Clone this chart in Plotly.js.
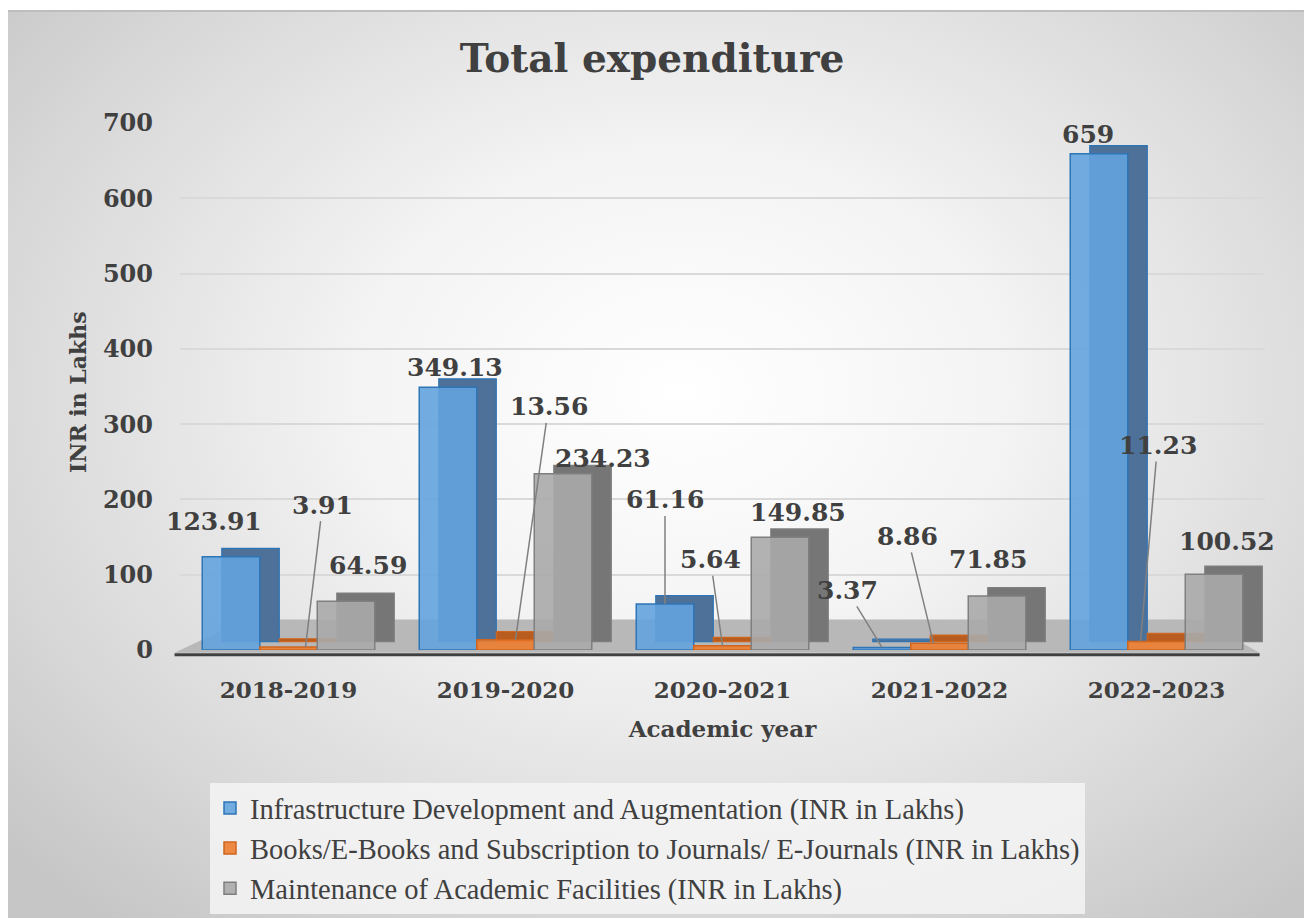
<!DOCTYPE html>
<html>
<head>
<meta charset="utf-8">
<script src="https://cdn.plot.ly/plotly-3.0.1.min.js"></script>
<style>
  html, body { margin: 0; padding: 0; background: #ffffff; }
  #wrap { position: relative; width: 1304px; height: 919px; overflow: hidden; }
  #bg { position: absolute; left: 8px; top: 10px; width: 1296px; height: 906px;
        background: radial-gradient(ellipse 70% 75% at 52% 42%, #ffffff 0%, #f4f4f4 35%, #d9d9d9 75%, #c6c6c6 100%);
        border-top: 2px solid #bdbdbd; }
  #chart { position: absolute; left: 0; top: 0; width: 1304px; height: 919px; }
</style>
</head>
<body>
<div id="wrap"><div id="bg"></div><div id="chart"></div></div>
<script>
// ---- data ----
const years = ["2018-2019", "2019-2020", "2020-2021", "2021-2022", "2022-2023"];
const seriesNames = [
  "Infrastructure Development and Augmentation (INR in Lakhs)",
  "Books/E-Books and Subscription to Journals/ E-Journals (INR in Lakhs)",
  "Maintenance of Academic Facilities (INR in Lakhs)"
];
const infrastructure = [123.91, 349.13, 61.16, 3.37, 659];
const books = [3.91, 13.56, 5.64, 8.86, 11.23];
const maintenance = [64.59, 234.23, 149.85, 71.85, 100.52];
const yTicks = [0, 100, 200, 300, 400, 500, 600, 700];
const chartTitle = "Total expenditure";
const xTitle = "Academic year";
const yTitle = "INR in Lakhs";

// ---- styles ----
const seriesValues = [infrastructure, books, maintenance];
const frontColors = ["rgba(100,163,222,0.90)", "rgba(237,125,49,0.90)", "rgba(170,170,170,0.90)"];
const sideColors = ["#4d7199", "#b85d1f", "#767676"];
const lineColors = ["#2e75b6", "#d0661e", "#7f7f7f"];
const barW = 0.265;
const offsets = [-barW, 0, barW];
const depthX = 0.09;
const depthY = 11;

const xIdx = years.map((_, i) => i);
const traces = [];
// depth (side/back) faces
seriesValues.forEach((vals, s) => {
  traces.push({
    type: "bar", x: xIdx, y: vals, base: depthY,
    offset: offsets[s] - barW / 2 + depthX, width: barW,
    marker: { color: sideColors[s], line: { color: lineColors[s], width: 1.2 } },
    showlegend: false, hoverinfo: "skip"
  });
});
// front faces
seriesValues.forEach((vals, s) => {
  traces.push({
    type: "bar", x: xIdx, y: vals, name: seriesNames[s],
    offset: offsets[s] - barW / 2, width: barW,
    marker: { color: frontColors[s], line: { color: lineColors[s], width: 1.5 } },
    legendgroup: "g" + s
  });
});

// label placement: [series, yearIndex, xshift, yshift(or ay), arrow?, ax]
const labelFont = { family: "DejaVu Serif", size: 25, color: "#404040", weight: "bold" };
const labelSpec = [
  [0, 0, -17, 35, false, 0],
  [1, 0, 17, -142, true, 17],
  [2, 0, 22, 36, false, 0],
  [0, 1, 7, 20, false, 0],
  [1, 1, 10, -233, true, 33],
  [2, 1, 40, 15, false, 0],
  [0, 2, 0, -104, true, 0],
  [1, 2, 0, -86, true, -12],
  [2, 2, 18, 25, false, 0],
  [0, 3, 0, -57, true, -35],
  [1, 3, -6, -107, true, -26],
  [2, 3, -9, 36, false, 0],
  [0, 4, -11, 19, false, 0],
  [1, 4, -16, -196, true, 17],
  [2, 4, 13, 33, false, 0]
];
const annotations = labelSpec.map(([s, i, xs, ys, arrow, ax]) => {
  const v = seriesValues[s][i];
  const base = { x: i + offsets[s], y: v, xref: "x", yref: "y", text: String(v), font: labelFont };
  if (arrow) {
    return Object.assign(base, { showarrow: true, arrowhead: 0, arrowwidth: 1.5, arrowcolor: "#808080",
      ax: ax, ay: ys, xshift: xs, standoff: 0 });
  }
  return Object.assign(base, { showarrow: false, xshift: xs, yshift: ys });
});
// y-axis title as rotated text (paper coords relative to the plot area)
annotations.push({
  xref: "paper", yref: "paper", x: (78 - 180) / 1085, y: (650 - 392) / 527, xanchor: "center", yanchor: "middle",
  text: yTitle, textangle: -90, showarrow: false,
  font: { family: "DejaVu Serif", size: 22, color: "#404040", weight: "bold" }
});

const layout = {
  width: 1304, height: 919,
  paper_bgcolor: "rgba(0,0,0,0)", plot_bgcolor: "rgba(0,0,0,0)",
  margin: { l: 180, r: 39, t: 123, b: 269, autoexpand: false },
  barmode: "overlay",
  title: { text: chartTitle, x: 0.5, xref: "container", y: 1 - 58 / 919, yref: "container", yanchor: "middle",
           font: { family: "DejaVu Serif", size: 39, color: "#404040", weight: "bold" } },
  font: { family: "DejaVu Serif", color: "#404040" },
  xaxis: {
    range: [-0.5, 4.5], tickmode: "array", tickvals: xIdx, ticktext: years, tickangle: 0,
    showgrid: false, zeroline: false, showline: false, ticks: "",
    tickfont: { family: "DejaVu Serif", size: 23, color: "#404040", weight: "bold" },
    ticklabelstandoff: 24,
    title: { text: xTitle, standoff: 18, font: { family: "DejaVu Serif", size: 23, color: "#404040", weight: "bold" } }
  },
  yaxis: {
    range: [0, 700], tickmode: "array", tickvals: yTicks,
    showgrid: true, gridcolor: "#d9d9d9", gridwidth: 2, zeroline: false, showline: false,
    tickfont: { family: "DejaVu Serif", size: 24, color: "#404040", weight: "bold" },
    ticklabelstandoff: 26
  },
  shapes: [
    { type: "path", xref: "paper", yref: "paper", layer: "below",
      path: "M 0.06 0.058 L 0.94 0.058 L 0.995 -0.005 L -0.005 -0.005 Z",
      fillcolor: "#b8b8b8", line: { width: 0 } },
    { type: "line", xref: "paper", yref: "paper", x0: -0.005, x1: 0.995, y0: -0.009, y1: -0.009,
      line: { color: "#404040", width: 3 }, layer: "above" }
  ],
  legend: {
    xref: "container", yref: "container", x: 210 / 1304, y: 1 - 783 / 919, xanchor: "left", yanchor: "top",
    bgcolor: "rgba(245,245,245,0.85)", borderwidth: 0,
    font: { family: "Liberation Serif", size: 28.5, color: "#404040" },
    itemwidth: 30, tracegroupgap: 12, traceorder: "normal"
  },
  annotations: annotations,
  bargap: 0
};

Plotly.newPlot("chart", traces, layout, { displayModeBar: false, staticPlot: true });
</script>
</body>
</html>
